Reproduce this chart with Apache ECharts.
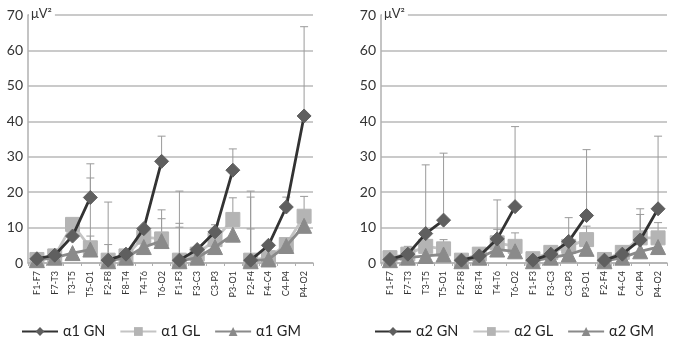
<!DOCTYPE html>
<html>
<head>
<meta charset="UTF-8">
<title>alpha power</title>
<script src="https://cdn.jsdelivr.net/npm/echarts@6/dist/echarts.min.js"></script>
<style>
  html, body { margin: 0; padding: 0; background: #fff; }
  #chart { width: 677px; height: 343px; }
</style>
</head>
<body>
<div id="chart"></div>
<script type="text/javascript">
// derivations (x axis, same for both panels)
var cats = ['F1-F7', 'F7-T3', 'T3-T5', 'T5-O1', 'F2-F8', 'F8-T4', 'T4-T6', 'T6-O2',
            'F1-F3', 'F3-C3', 'C3-P3', 'P3-O1', 'F2-F4', 'F4-C4', 'C4-P4', 'P4-O2'];
var yTicks = [0, 10, 20, 30, 40, 50, 60, 70];

// alpha1 panel - means
var a1GN = [1.2, 2.2, 7.6, 18.5, 0.8, 2.5, 9.7, 28.7, 0.8, 3.8, 8.8, 26.2, 0.8, 5.0, 15.8, 41.5];
var a1GL = [1.0, 2.0, 10.9, 4.3, 0.8, 2.0, 7.3, 6.8, 0.8, 2.5, 6.6, 12.3, 0.8, 1.5, 5.2, 13.2];
var a1GM = [0.8, 1.5, 2.8, 3.8, 0.5, 1.5, 4.5, 6.2, 0.5, 1.5, 4.5, 8.0, 0.5, 1.0, 4.8, 10.5];
// alpha1 panel - top of error bars (null = none visible)
var a1GNtop = [null, null, null, 28.0, 17.2, null, null, 35.8, 20.3, null, 10.8, 32.2, 20.3, null, 18.6, 66.7];
var a1GLtop = [null, null, null, 24.0, 5.2, null, null, 15.0, 11.2, null, null, 18.4, 18.6, null, null, 18.8];
var a1GMtop = [null, null, null, 7.6, null, null, null, 12.5, 10.1, null, null, null, 9.6, null, null, null];

// alpha2 panel - means
var a2GN = [1.0, 2.5, 8.3, 12.1, 0.8, 2.0, 6.8, 15.9, 0.8, 2.5, 6.1, 13.4, 0.8, 2.5, 6.5, 15.3];
var a2GL = [1.5, 2.5, 4.7, 4.0, 0.8, 2.5, 5.7, 4.7, 1.2, 3.0, 4.7, 6.6, 1.0, 3.0, 7.1, 7.1];
var a2GM = [0.8, 1.5, 2.0, 2.4, 0.5, 1.5, 3.8, 3.3, 0.5, 1.5, 2.4, 4.0, 0.5, 1.5, 3.3, 4.5];
// alpha2 panel - top of error bars
var a2GNtop = [null, 4.7, 27.7, 31.0, null, 4.0, 17.8, 38.5, null, null, 12.8, 32.0, null, 4.5, 13.7, 35.8];
var a2GLtop = [null, null, null, 6.6, null, null, 9.5, 8.5, null, null, null, 10.4, null, null, 15.3, 11.4];
var a2GMtop = [null, null, null, null, null, null, null, null, null, null, null, null, null, null, null, null];

var FONT = 'Lato, "DejaVu Sans", sans-serif';

// kleur + symbool per groep
var styles = {
    GN: { color: '#5f5f5f', line: '#333333', symbol: 'diamond', size: 14 },
    GL: { color: '#b4b4b4', line: '#c4c4c4', symbol: 'rect', size: 14 },
    GM: { color: '#8a8a8a', line: '#8a8a8a', symbol: 'triangle', size: 15 }
};

var series = [];

function addErr(top, vals, idx) {
    var data = [];
    for (var i = 0; i < cats.length; i++) {
        if (top[i] !== null) data.push([i, vals[i], top[i]]);
    }
    series.push({
        type: 'custom',
        xAxisIndex: idx, yAxisIndex: idx,
        silent: true, z: 1,
        encode: { x: 0, y: [1, 2] },
        data: data,
        renderItem: function (params, api) {
            var p0 = api.coord([api.value(0), api.value(1)]);
            var p1 = api.coord([api.value(0), api.value(2)]);
            var st = { stroke: '#9a9a9a', lineWidth: 1 };
            return {
                type: 'group',
                children: [
                    { type: 'line', shape: { x1: p0[0], y1: p0[1], x2: p1[0], y2: p1[1] }, style: st },
                    { type: 'line', shape: { x1: p1[0] - 4, y1: p1[1], x2: p1[0] + 4, y2: p1[1] }, style: st }
                ]
            };
        }
    });
}

function addLine(name, key, vals, idx) {
    var s = styles[key];
    // lijnen per groep van 4, niet doorverbonden
    for (var g = 0; g < 4; g++) {
        var d = vals.map(function (v, i) { return Math.floor(i / 4) === g ? v : null; });
        series.push({
            name: name,
            type: 'line',
            xAxisIndex: idx, yAxisIndex: idx,
            data: d,
            connectNulls: false,
            symbol: s.symbol,
            symbolSize: s.size,
            z: key === 'GN' ? 4 : (key === 'GM' ? 3 : 2),
            itemStyle: { color: s.color, borderColor: s.color },
            lineStyle: { color: s.line, width: 2.8 },
            emphasis: { disabled: true },
            animation: false
        });
    }
}

addErr(a1GNtop, a1GN, 0); addErr(a1GLtop, a1GL, 0); addErr(a1GMtop, a1GM, 0);
addErr(a2GNtop, a2GN, 1); addErr(a2GLtop, a2GL, 1); addErr(a2GMtop, a2GM, 1);

addLine('α1 GL', 'GL', a1GL, 0);
addLine('α1 GM', 'GM', a1GM, 0);
addLine('α1 GN', 'GN', a1GN, 0);
addLine('α2 GL', 'GL', a2GL, 1);
addLine('α2 GM', 'GM', a2GM, 1);
addLine('α2 GN', 'GN', a2GN, 1);

function xAx(idx) {
    return {
        type: 'category', gridIndex: idx, data: cats,
        axisLine: { lineStyle: { color: '#b0b0b0', width: 1.5 } },
        axisTick: { show: true, interval: 0, length: 3, lineStyle: { color: '#b0b0b0' } },
        axisLabel: { interval: 0, rotate: 90, fontSize: 9, color: '#333', fontFamily: FONT, margin: 8 }
    };
}
function yAx(idx) {
    return {
        type: 'value', gridIndex: idx, min: yTicks[0], max: yTicks[yTicks.length - 1], interval: 10,
        axisLine: { show: true, lineStyle: { color: '#b0b0b0', width: 1.5 } },
        axisTick: { show: false },
        splitLine: { lineStyle: { color: '#b8b8b8', width: 1.5 } },
        axisLabel: { fontSize: 14, color: '#333', fontFamily: FONT, margin: 5 }
    };
}

function legend(names, left) {
    return {
        data: names, left: left, top: 319, width: 320,
        itemWidth: 36, itemHeight: 11, itemGap: 14,
        textStyle: { fontSize: 14.5, color: '#222', fontFamily: FONT },
        selectedMode: false
    };
}

var myChart = echarts.init(document.getElementById('chart'));
var option = {
    animation: false,
    grid: [
        { left: 28, top: 15, width: 285, height: 248 },
        { left: 381, top: 15, width: 286, height: 248 }
    ],
    xAxis: [xAx(0), xAx(1)],
    yAxis: [yAx(0), yAx(1)],
    legend: [
        legend(['α1 GN', 'α1 GL', 'α1 GM'], 16),
        legend(['α2 GN', 'α2 GL', 'α2 GM'], 369)
    ],
    graphic: [
        { type: 'text', left: 29, top: 5, z: 50,
          style: { text: 'μV²', fontSize: 13, fill: '#333', fontFamily: FONT, backgroundColor: '#fff', padding: [2, 3, 2, 2] } },
        { type: 'text', left: 382, top: 5, z: 50,
          style: { text: 'μV²', fontSize: 13, fill: '#333', fontFamily: FONT, backgroundColor: '#fff', padding: [2, 3, 2, 2] } }
    ],
    series: series
};
myChart.setOption(option);
</script>
</body>
</html>
